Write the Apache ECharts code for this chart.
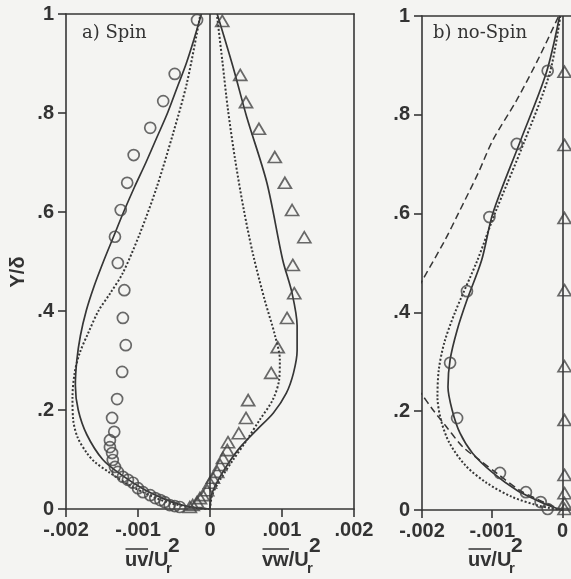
<!DOCTYPE html>
<html>
<head>
<meta charset="utf-8">
<script src="https://cdn.jsdelivr.net/npm/echarts@6/dist/echarts.min.js"></script>
<style>
  html, body { margin: 0; padding: 0; background: #f4f4f2; }
  #chart { width: 571px; height: 579px; }
</style>
</head>
<body>
<div id="chart"></div>
<script>
// ---- shared ticks ----
const yTickValues = [0, 0.2, 0.4, 0.6, 0.8, 1];
const xTicksSpin = [-0.002, -0.001, 0, 0.001, 0.002];
const xTicksNoSpin = [-0.002, -0.001, 0];

// ---- a) Spin : measured uv (circles) and vw (triangles), [value, Y/delta] ----
const spinUvMeasured = [
  [-0.00018, 0.988], [-0.00049, 0.879], [-0.00065, 0.824], [-0.00083, 0.770],
  [-0.00106, 0.715], [-0.00115, 0.659], [-0.00124, 0.604], [-0.00132, 0.550],
  [-0.00128, 0.497], [-0.00119, 0.442], [-0.00121, 0.386], [-0.00117, 0.331],
  [-0.00122, 0.277], [-0.00129, 0.222], [-0.00136, 0.184], [-0.00133, 0.156],
  [-0.00139, 0.139], [-0.00139, 0.125], [-0.00136, 0.113], [-0.00135, 0.099],
  [-0.00132, 0.085], [-0.00128, 0.075], [-0.00121, 0.065], [-0.00114, 0.059],
  [-0.00107, 0.053], [-0.00100, 0.042], [-0.00093, 0.034], [-0.00083, 0.028],
  [-0.00076, 0.022], [-0.00069, 0.018], [-0.00063, 0.014], [-0.00056, 0.008],
  [-0.00049, 0.006], [-0.00042, 0.004]
];
const spinVwMeasured = [
  [0.00017, 0.986], [0.00042, 0.877], [0.00050, 0.822], [0.00068, 0.768],
  [0.00090, 0.711], [0.00104, 0.659], [0.00114, 0.604], [0.00131, 0.549],
  [0.00115, 0.493], [0.00117, 0.436], [0.00107, 0.386], [0.00094, 0.327],
  [0.00085, 0.275], [0.00053, 0.220], [0.00050, 0.184], [0.00040, 0.153],
  [0.00025, 0.135], [0.00024, 0.119], [0.00018, 0.103], [0.00014, 0.089],
  [0.00010, 0.075], [0.00004, 0.063], [0.00000, 0.053], [-0.00004, 0.038],
  [-0.00010, 0.028], [-0.00014, 0.022], [-0.00018, 0.014], [-0.00024, 0.008],
  [-0.00028, 0.004]
];
// model predictions (solid and dotted curves)
const spinUvSolid = [
  [-0.00012, 1.0], [-0.00022, 0.95], [-0.00033, 0.9], [-0.00046, 0.85],
  [-0.00059, 0.8], [-0.00074, 0.75], [-0.00089, 0.7], [-0.00105, 0.65],
  [-0.00120, 0.6], [-0.00134, 0.55], [-0.00148, 0.5], [-0.00161, 0.45],
  [-0.00172, 0.4], [-0.00180, 0.35], [-0.00185, 0.3], [-0.00187, 0.25],
  [-0.00183, 0.2], [-0.00171, 0.15], [-0.00149, 0.1], [-0.00124, 0.07],
  [-0.00092, 0.04], [-0.00063, 0.02], [-0.00044, 0.01], [-0.00026, 0.004], [0, 0]
];
const spinUvDotted = [
  [-0.00014, 0.994], [-0.00032, 0.861], [-0.00051, 0.760], [-0.00074, 0.650],
  [-0.00097, 0.558], [-0.00121, 0.477], [-0.00139, 0.435], [-0.00155, 0.400],
  [-0.00169, 0.356], [-0.00181, 0.315], [-0.00188, 0.275], [-0.00191, 0.226],
  [-0.00190, 0.180], [-0.00184, 0.145], [-0.00171, 0.113], [-0.00160, 0.095],
  [-0.00141, 0.075], [-0.00107, 0.044], [-0.00060, 0.014], [-0.00020, 0.002], [0, 0]
];
const spinVwSolid = [
  [0.00010, 1.0], [0.00032, 0.893], [0.00051, 0.792], [0.00079, 0.659],
  [0.00101, 0.503], [0.00114, 0.436], [0.00121, 0.370], [0.00121, 0.320], [0.00116, 0.275],
  [0.00106, 0.234], [0.00088, 0.194], [0.00065, 0.160], [0.00042, 0.125],
  [0.00024, 0.089], [0.00010, 0.055], [0.00002, 0.028], [0, 0]
];
const spinVwDotted = [
  [0.00010, 0.994], [0.00017, 0.907], [0.00025, 0.806], [0.00035, 0.705],
  [0.00047, 0.604], [0.00060, 0.513], [0.00076, 0.422], [0.00090, 0.352],
  [0.00097, 0.301], [0.00096, 0.261], [0.00087, 0.220], [0.00069, 0.180],
  [0.00051, 0.139], [0.00032, 0.099], [0.00014, 0.059], [0.00003, 0.028], [0, 0]
];

// ---- b) no-Spin ----
const noSpinUvMeasured = [
  [-0.00021, 0.889], [-0.00065, 0.741], [-0.00104, 0.593], [-0.00136, 0.443],
  [-0.00160, 0.298], [-0.00150, 0.186], [-0.00089, 0.075], [-0.00052, 0.036],
  [-0.00031, 0.016], [-0.00021, 0.002]
];
const noSpinVwMeasured = [
  [0.00003, 0.887], [0.00003, 0.739], [0.00003, 0.591], [0.00003, 0.445], [0.00003, 0.291],
  [0.00003, 0.182], [0.00003, 0.071], [0.00003, 0.034], [0.00003, 0.014], [0.00003, 0.002]
];
const noSpinUvSolid = [
  [-0.00004, 1.0], [-0.00023, 0.885], [-0.00061, 0.743], [-0.00099, 0.601],
  [-0.00115, 0.506], [-0.00136, 0.425], [-0.00150, 0.364], [-0.00160, 0.304],
  [-0.00163, 0.249], [-0.00157, 0.202], [-0.00146, 0.156], [-0.00128, 0.115],
  [-0.00099, 0.075], [-0.00065, 0.040], [-0.00037, 0.020], [-0.00014, 0.006], [0, 0]
];
const noSpinUvDotted = [
  [-0.00003, 1.0], [-0.00018, 0.885], [-0.00055, 0.743], [-0.00096, 0.601],
  [-0.00121, 0.506], [-0.00153, 0.400], [-0.00168, 0.340], [-0.00176, 0.285],
  [-0.00178, 0.230], [-0.00173, 0.182], [-0.00161, 0.136], [-0.00138, 0.090],
  [-0.00108, 0.055], [-0.00071, 0.026], [-0.00037, 0.010], [-0.00018, 0.004], [0, 0]
];
const noSpinUvDashed = [
  [-0.00006, 0.998], [-0.00033, 0.917], [-0.00065, 0.830], [-0.00099, 0.749],
  [-0.00120, 0.682], [-0.00148, 0.601], [-0.00167, 0.547], [-0.00199, 0.466],
  [-0.00225, 0.40], [-0.00238, 0.33], [-0.00222, 0.27], [-0.00203, 0.239],
  [-0.00184, 0.202], [-0.00165, 0.168], [-0.00142, 0.128], [-0.00118, 0.101],
  [-0.00094, 0.075], [-0.00061, 0.040], [-0.00033, 0.020], [-0.00011, 0.006], [0, 0]
];

const INK = '#363636';
const LABEL_FONT = { fontFamily: 'Liberation Sans', fontWeight: 'bold', fontSize: 20, color: '#333' };

function tickText(v) {
  if (Math.abs(v) < 1e-12) return '0';
  const s = String(Number(Math.abs(v).toPrecision(6))).replace(/^0\./, '.');
  return (v < 0 ? '-' : '') + s;
}

function frameAxis(gridIndex, position, min, max) {
  return {
    type: 'value', gridIndex, position, min, max,
    axisLine: { show: true, onZero: false, lineStyle: { color: INK, width: 1.6 } },
    axisTick: { show: false }, axisLabel: { show: false }, splitLine: { show: false }
  };
}

function mainXAxis(gridIndex, min, max, ticks) {
  return {
    type: 'value', gridIndex, position: 'bottom', min, max, interval: 0.001,
    axisLine: { show: true, onZero: false, lineStyle: { color: INK, width: 1.6 } },
    axisTick: { show: true, length: 8, customValues: ticks, lineStyle: { color: INK, width: 1.6 } },
    axisLabel: Object.assign({ margin: 11, customValues: ticks, formatter: tickText }, LABEL_FONT),
    splitLine: { show: false }
  };
}

function mainYAxis(gridIndex) {
  return {
    type: 'value', gridIndex, position: 'left', min: 0, max: 1, interval: 0.2,
    axisLine: { show: true, onZero: false, lineStyle: { color: INK, width: 1.6 } },
    axisTick: { show: true, length: 8, customValues: yTickValues, lineStyle: { color: INK, width: 1.6 } },
    axisLabel: Object.assign({ margin: 12, customValues: yTickValues, formatter: tickText }, LABEL_FONT),
    splitLine: { show: false }
  };
}

function curve(data, xi, yi, dash, width) {
  return {
    type: 'line', xAxisIndex: xi, yAxisIndex: yi, data,
    showSymbol: false, smooth: 0.3, clip: true, silent: true, z: 2,
    lineStyle: { color: INK, width: width || 1.7, type: dash || 'solid' }
  };
}

function markers(data, xi, yi, symbol, size) {
  return {
    type: 'scatter', xAxisIndex: xi, yAxisIndex: yi, data, symbol, symbolSize: size,
    silent: true, z: 3,
    itemStyle: { color: 'rgba(0,0,0,0)', borderColor: '#454545', borderWidth: 1.7 }
  };
}

function zeroLine(xi, yi) {
  return {
    type: 'line', xAxisIndex: xi, yAxisIndex: yi, data: [], silent: true,
    markLine: {
      silent: true, symbol: ['none', 'none'], label: { show: false },
      lineStyle: { color: INK, width: 1.6, type: 'solid' },
      data: [{ xAxis: 0 }]
    }
  };
}

const chart = echarts.init(document.getElementById('chart'), null, { renderer: 'canvas' });

// "ūv/U_r^2"-style axis title: main text, subscript r, superscript 2, overline on the product
function axisTitle(x, main, mainWidth, overWidth) {
  return {
    type: 'group', x: x, y: 0, silent: true,
    children: [
      { type: 'text', x: 0, y: 560, style: { text: main, font: 'bold 20px "Liberation Sans"', fill: '#333', verticalAlign: 'middle' } },
      { type: 'text', x: mainWidth - 2, y: 569, style: { text: 'r', font: 'bold 15px "Liberation Sans"', fill: '#333', verticalAlign: 'middle' } },
      { type: 'text', x: mainWidth, y: 546, style: { text: '2', font: 'bold 21px "Liberation Sans"', fill: '#333', verticalAlign: 'middle' } },
      { type: 'line', shape: { x1: 0.5, y1: 549, x2: overWidth, y2: 549 }, style: { stroke: '#333', lineWidth: 1.5 } }
    ]
  };
}

chart.setOption({
  backgroundColor: '#f4f4f2',
  animation: false,
  grid: [
    { left: 66, top: 14, width: 288, height: 495 },
    { left: 422, top: 16, width: 149.5, height: 494 }
  ],
  xAxis: [
    mainXAxis(0, -0.002, 0.002, xTicksSpin),
    frameAxis(0, 'top', -0.002, 0.002),
    mainXAxis(1, -0.002, 0.00012, xTicksNoSpin),
    frameAxis(1, 'top', -0.002, 0.00012)
  ],
  yAxis: [
    mainYAxis(0),
    frameAxis(0, 'right', 0, 1),
    mainYAxis(1)
  ],
  series: [
    zeroLine(0, 0),
    curve(spinUvSolid, 0, 0),
    curve(spinUvDotted, 0, 0, [2, 2], 2),
    curve(spinVwSolid, 0, 0),
    curve(spinVwDotted, 0, 0, [2, 2], 2),
    markers(spinUvMeasured, 0, 0, 'circle', 11),
    markers(spinVwMeasured, 0, 0, 'triangle', [13, 11]),

    zeroLine(2, 2),
    curve(noSpinUvSolid, 2, 2),
    curve(noSpinUvDotted, 2, 2, [2, 2], 2),
    curve(noSpinUvDashed, 2, 2, [7, 4], 1.5),
    markers(noSpinUvMeasured, 2, 2, 'circle', 11),
    markers(noSpinVwMeasured, 2, 2, 'triangle', [13, 11])
  ],
  graphic: [
    { type: 'text', left: 82, top: 24, silent: true,
      style: { text: 'a) Spin', font: '18px "DejaVu Serif"', fill: '#333' } },
    { type: 'text', left: 433, top: 24, silent: true,
      style: { text: 'b) no-Spin', font: '18px "DejaVu Serif"', fill: '#333' } },
    { type: 'text', x: 18, y: 272, rotation: Math.PI / 2, silent: true,
      style: { text: 'Y/δ', font: 'bold 20px "Liberation Sans"', fill: '#333', align: 'center', verticalAlign: 'middle' } },
    axisTitle(125, 'uv/U', 43, 23),
    axisTitle(262, 'vw/U', 47, 27),
    axisTitle(468, 'uv/U', 43, 23)
  ]
});
</script>
</body>
</html>
